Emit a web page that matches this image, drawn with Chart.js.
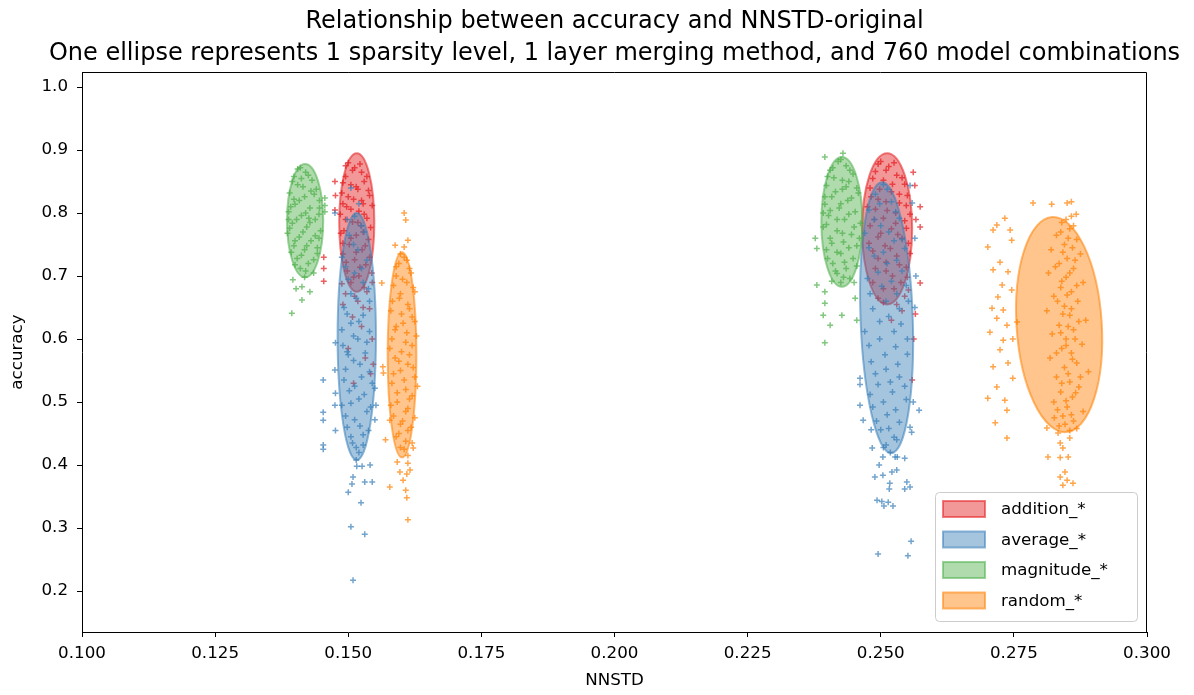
<!DOCTYPE html>
<html>
<head>
<meta charset="utf-8">
<script src="https://cdn.jsdelivr.net/npm/chart.js@4/dist/chart.umd.min.js"></script>
<style>
  html, body { margin: 0; padding: 0; background: #fff; }
  #wrap { width: 1194px; height: 695px; }
</style>
</head>
<body>
<div id="wrap"><canvas id="chart" width="1194" height="695"></canvas></div>
<script>
// values (NNSTD, accuracy)
const methods = ['addition_*', 'average_*', 'magnitude_*', 'random_*'];
const colors = ['#e41a1c', '#377eb8', '#4daf4a', '#ff7f00'];
const titleLines = [
  'Relationship between accuracy and NNSTD-original',
  'One ellipse represents 1 sparsity level, 1 layer merging method, and 760 model combinations',
];

const additionPts = [
  [0.1500,0.880],[0.1512,0.872],[0.1525,0.865],[0.1495,0.858],[0.1530,0.850],[0.1505,0.845],[0.1518,0.838],
  [0.1488,0.832],[0.1540,0.828],[0.1510,0.822],[0.1528,0.815],[0.1497,0.810],[0.1520,0.803],[0.1485,0.798],
  [0.1535,0.792],[0.1508,0.786],[0.1524,0.780],[0.1492,0.772],[0.1515,0.765],[0.1538,0.758],[0.1502,0.750],
  [0.1526,0.742],[0.1490,0.735],[0.1512,0.726],[0.1533,0.718],[0.1498,0.708],[0.1520,0.700],[0.1505,0.690],
  [0.1530,0.682],[0.1495,0.672],[0.1518,0.660],[0.1540,0.648],[0.1508,0.635],[0.1525,0.620],[0.1545,0.600],
  [0.1500,0.585],[0.1532,0.570],[0.1475,0.850],[0.1476,0.828],[0.1475,0.805],[0.1454,0.730],[0.1454,0.712],
  [0.1454,0.692],[0.1545,0.690],[0.1547,0.560],[0.1542,0.545],[0.1510,0.530],
  [0.1495,0.875],[0.1522,0.878],[0.1508,0.868],[0.1535,0.858],[0.1490,0.848],[0.1515,0.842],[0.1538,0.836],
  [0.1500,0.826],[0.1525,0.820],[0.1490,0.815],[0.1545,0.812],[0.1505,0.806],[0.1530,0.798],[0.1495,0.790],
  [0.1518,0.785],[0.1542,0.777],[0.1486,0.768],[0.1528,0.770],[0.1505,0.760],[0.1490,0.752],[0.1532,0.748],
  [0.1515,0.738],[0.1540,0.730],[0.1496,0.722],[0.1522,0.714],[0.1544,0.705],[0.1510,0.698],[0.1488,0.688],
  [0.1535,0.675],[0.1512,0.668],[0.1490,0.655],[0.1528,0.650],
  [0.2500,0.882],[0.2515,0.874],[0.2490,0.866],[0.2530,0.860],[0.2505,0.852],[0.2545,0.846],[0.2480,0.840],
  [0.2520,0.834],[0.2550,0.828],[0.2495,0.822],[0.2535,0.816],[0.2475,0.810],[0.2512,0.804],[0.2555,0.798],
  [0.2488,0.790],[0.2528,0.784],[0.2548,0.776],[0.2500,0.768],[0.2540,0.760],[0.2478,0.752],[0.2518,0.744],
  [0.2555,0.736],[0.2495,0.728],[0.2535,0.718],[0.2510,0.708],[0.2550,0.698],[0.2485,0.690],[0.2525,0.680],
  [0.2545,0.668],[0.2505,0.658],[0.2540,0.645],[0.2520,0.630],[0.2561,0.865],[0.2564,0.844],[0.2574,0.810],
  [0.2574,0.778],[0.2566,0.790],[0.2574,0.689],[0.2565,0.640],[0.2559,0.535],[0.2562,0.600],
  [0.2495,0.878],[0.2525,0.880],[0.2510,0.868],[0.2540,0.856],[0.2485,0.855],[0.2522,0.846],[0.2498,0.838],
  [0.2535,0.830],[0.2482,0.826],[0.2510,0.818],[0.2548,0.812],[0.2490,0.806],[0.2528,0.800],[0.2505,0.792],
  [0.2545,0.788],[0.2480,0.780],[0.2520,0.775],[0.2495,0.762],[0.2532,0.766],[0.2552,0.752],[0.2508,0.748],
  [0.2485,0.740],[0.2530,0.732],[0.2510,0.722],[0.2548,0.714],[0.2490,0.712],[0.2522,0.700],[0.2538,0.690],
  [0.2505,0.680],[0.2552,0.678],[0.2495,0.665],[0.2530,0.655]
];

const averagePts = [
  [0.1505,0.840],[0.1520,0.815],[0.1498,0.790],[0.1530,0.770],[0.1510,0.750],[0.1488,0.730],[0.1525,0.712],
  [0.1500,0.695],[0.1538,0.680],[0.1515,0.665],[0.1492,0.650],[0.1528,0.638],[0.1505,0.625],[0.1540,0.612],
  [0.1518,0.600],[0.1490,0.590],[0.1532,0.578],[0.1510,0.566],[0.1495,0.552],[0.1525,0.540],[0.1545,0.530],
  [0.1502,0.518],[0.1520,0.505],[0.1488,0.495],[0.1535,0.485],[0.1512,0.472],[0.1498,0.460],[0.1528,0.448],
  [0.1508,0.435],[0.1520,0.420],[0.1515,0.408],
  [0.1512,0.795],[0.1525,0.780],[0.1502,0.765],[0.1518,0.742],[0.1535,0.725],[0.1495,0.715],[0.1512,0.705],
  [0.1528,0.690],[0.1505,0.672],[0.1540,0.660],[0.1498,0.640],[0.1520,0.628],[0.1488,0.615],[0.1510,0.605],
  [0.1535,0.595],[0.1500,0.575],[0.1522,0.560],[0.1540,0.548],[0.1492,0.535],[0.1512,0.525],[0.1530,0.512],
  [0.1505,0.498],[0.1542,0.492],[0.1495,0.478],[0.1522,0.462],[0.1538,0.455],[0.1505,0.445],[0.1515,0.428],
  [0.1528,0.432],[0.1498,0.580],
  [0.1475,0.800],[0.1476,0.594],[0.1475,0.551],[0.1476,0.514],[0.1475,0.495],[0.1476,0.455],[0.1453,0.535],
  [0.1453,0.484],[0.1453,0.471],[0.1453,0.432],[0.1453,0.425],[0.1516,0.398],[0.1526,0.398],[0.1509,0.381],
  [0.1541,0.400],[0.1531,0.373],[0.1545,0.373],[0.1507,0.370],[0.1500,0.357],[0.1524,0.340],[0.1505,0.302],
  [0.1531,0.290],[0.1509,0.217],[0.1550,0.522],[0.1552,0.495],[0.1550,0.472],
  [0.2505,0.845],[0.2490,0.830],[0.2520,0.818],[0.2478,0.805],[0.2535,0.792],[0.2500,0.780],[0.2470,0.768],
  [0.2525,0.756],[0.2545,0.744],[0.2488,0.732],[0.2512,0.720],[0.2540,0.708],[0.2475,0.696],[0.2502,0.684],
  [0.2530,0.672],[0.2552,0.660],[0.2485,0.648],[0.2515,0.636],[0.2538,0.624],[0.2470,0.612],[0.2498,0.600],
  [0.2528,0.588],[0.2550,0.576],[0.2482,0.564],[0.2510,0.552],[0.2535,0.540],[0.2495,0.528],[0.2522,0.516],
  [0.2548,0.504],[0.2485,0.492],[0.2512,0.480],[0.2535,0.468],[0.2500,0.456],[0.2525,0.444],[0.2510,0.432],
  [0.2518,0.420],
  [0.2512,0.838],[0.2498,0.815],[0.2528,0.802],[0.2488,0.790],[0.2515,0.770],[0.2540,0.758],[0.2478,0.745],
  [0.2505,0.738],[0.2530,0.725],[0.2495,0.706],[0.2520,0.692],[0.2548,0.685],[0.2480,0.672],[0.2510,0.660],
  [0.2535,0.648],[0.2498,0.628],[0.2525,0.612],[0.2550,0.600],[0.2478,0.590],[0.2508,0.575],[0.2532,0.560],
  [0.2490,0.545],[0.2518,0.532],[0.2545,0.525],[0.2480,0.512],[0.2505,0.500],[0.2528,0.488],[0.2492,0.470],
  [0.2515,0.458],[0.2530,0.440],[0.2505,0.428],
  [0.2555,0.844],[0.2559,0.816],[0.2564,0.760],[0.2566,0.700],[0.2564,0.650],[0.2461,0.538],[0.2461,0.528],
  [0.2461,0.495],[0.2467,0.471],[0.2482,0.456],[0.2484,0.427],[0.2561,0.500],[0.2572,0.487],[0.2555,0.460],
  [0.2558,0.452],[0.2504,0.413],[0.2527,0.413],[0.2531,0.413],[0.2545,0.411],[0.2497,0.400],[0.2489,0.381],
  [0.2504,0.384],[0.2521,0.389],[0.2530,0.392],[0.2517,0.371],[0.2549,0.373],[0.2555,0.365],[0.2545,0.362],
  [0.2516,0.362],[0.2493,0.344],[0.2502,0.342],[0.2514,0.341],[0.2506,0.335],[0.2523,0.335],[0.2557,0.279],
  [0.2495,0.259],[0.2551,0.256]
];

const magnitudePts = [
  [0.1410,0.872],[0.1420,0.865],[0.1398,0.858],[0.1432,0.852],[0.1405,0.845],[0.1440,0.838],[0.1390,0.832],
  [0.1418,0.826],[0.1446,0.820],[0.1400,0.814],[0.1428,0.808],[0.1388,0.802],[0.1412,0.796],[0.1438,0.790],
  [0.1395,0.784],[0.1422,0.778],[0.1448,0.772],[0.1386,0.768],[0.1408,0.762],[0.1430,0.756],[0.1398,0.748],
  [0.1418,0.742],[0.1442,0.736],[0.1404,0.728],[0.1425,0.720],[0.1410,0.712],[0.1435,0.705],[0.1418,0.698],
  [0.1396,0.694],[0.1413,0.683],[0.1428,0.675],[0.1402,0.680],[0.1413,0.662],[0.1394,0.641],[0.1456,0.824],
  [0.1456,0.812],[0.1456,0.802],[0.1445,0.760],
  [0.1405,0.870],[0.1425,0.860],[0.1395,0.850],[0.1415,0.842],[0.1436,0.830],[0.1408,0.820],[0.1392,0.810],
  [0.1420,0.800],[0.1445,0.798],[0.1403,0.790],[0.1428,0.785],[0.1390,0.776],[0.1415,0.770],[0.1438,0.764],
  [0.1400,0.756],[0.1422,0.748],[0.1393,0.738],[0.1412,0.733],[0.1435,0.726],[0.1400,0.718],[0.1420,0.708],
  [0.1442,0.745],[0.1388,0.790],[0.1446,0.808],[0.1430,0.835],[0.1398,0.822],[0.1412,0.855],[0.1426,0.792],
  [0.2420,0.882],[0.2435,0.875],[0.2405,0.868],[0.2448,0.862],[0.2412,0.856],[0.2440,0.850],[0.2398,0.844],
  [0.2428,0.838],[0.2458,0.832],[0.2408,0.826],[0.2438,0.820],[0.2395,0.814],[0.2422,0.808],[0.2452,0.802],
  [0.2402,0.796],[0.2432,0.790],[0.2462,0.784],[0.2392,0.778],[0.2418,0.772],[0.2445,0.766],[0.2405,0.760],
  [0.2430,0.754],[0.2455,0.748],[0.2398,0.742],[0.2425,0.736],[0.2448,0.728],[0.2410,0.720],[0.2435,0.712],
  [0.2418,0.704],[0.2442,0.696],[0.2425,0.690],[0.2395,0.889],[0.2429,0.895],[0.2377,0.760],[0.2380,0.744],
  [0.2380,0.686],[0.2395,0.675],[0.2395,0.657],[0.2392,0.638],[0.2405,0.622],[0.2427,0.638],[0.2452,0.665],
  [0.2450,0.690],[0.2455,0.630],[0.2395,0.594],
  [0.2425,0.885],[0.2410,0.872],[0.2442,0.868],[0.2400,0.858],[0.2428,0.852],[0.2455,0.840],[0.2415,0.834],
  [0.2395,0.826],[0.2445,0.824],[0.2425,0.815],[0.2405,0.804],[0.2440,0.798],[0.2418,0.790],[0.2398,0.782],
  [0.2450,0.778],[0.2428,0.768],[0.2408,0.752],[0.2440,0.745],[0.2418,0.738],[0.2400,0.728],[0.2432,0.722],
  [0.2455,0.716],[0.2415,0.708],[0.2430,0.698],[0.2408,0.692],[0.2460,0.760],[0.2392,0.800],[0.2435,0.842]
];

const randomPts = [
  [0.1598,0.735],[0.1610,0.725],[0.1590,0.715],[0.1618,0.705],[0.1602,0.695],[0.1585,0.685],[0.1625,0.675],
  [0.1596,0.665],[0.1612,0.655],[0.1580,0.645],[0.1620,0.635],[0.1603,0.625],[0.1588,0.615],[0.1628,0.605],
  [0.1608,0.595],[0.1578,0.585],[0.1615,0.575],[0.1595,0.565],[0.1622,0.555],[0.1585,0.545],[0.1605,0.535],
  [0.1630,0.525],[0.1592,0.515],[0.1615,0.505],[0.1580,0.495],[0.1608,0.485],[0.1625,0.475],[0.1598,0.465],
  [0.1612,0.455],[0.1590,0.445],[0.1620,0.435],[0.1605,0.425],[0.1612,0.415],
  [0.1605,0.730],[0.1595,0.720],[0.1615,0.712],[0.1590,0.700],[0.1610,0.690],[0.1622,0.682],[0.1598,0.672],
  [0.1583,0.660],[0.1615,0.648],[0.1600,0.640],[0.1625,0.628],[0.1590,0.620],[0.1610,0.610],[0.1582,0.600],
  [0.1620,0.590],[0.1600,0.580],[0.1588,0.570],[0.1612,0.560],[0.1598,0.550],[0.1625,0.540],[0.1582,0.530],
  [0.1608,0.520],[0.1620,0.510],[0.1592,0.500],[0.1612,0.490],[0.1585,0.478],[0.1602,0.470],[0.1618,0.460],
  [0.1595,0.450],[0.1608,0.438],[0.1598,0.428],
  [0.1605,0.800],[0.1608,0.789],[0.1612,0.757],[0.1605,0.746],[0.1588,0.749],[0.1563,0.689],[0.1565,0.556],
  [0.1566,0.546],[0.1578,0.471],[0.1570,0.440],[0.1622,0.427],[0.1592,0.405],[0.1612,0.403],[0.1597,0.389],
  [0.1610,0.386],[0.1603,0.376],[0.1616,0.392],[0.1578,0.365],[0.1608,0.360],[0.1610,0.348],[0.1612,0.313],
  [0.2840,0.785],[0.2855,0.775],[0.2830,0.765],[0.2868,0.758],[0.2845,0.750],[0.2820,0.742],[0.2875,0.735],
  [0.2850,0.728],[0.2835,0.720],[0.2862,0.712],[0.2815,0.705],[0.2848,0.698],[0.2880,0.690],[0.2838,0.682],
  [0.2858,0.675],[0.2825,0.668],[0.2870,0.660],[0.2845,0.652],[0.2812,0.645],[0.2855,0.638],[0.2885,0.630],
  [0.2835,0.622],[0.2862,0.615],[0.2822,0.608],[0.2848,0.600],[0.2878,0.592],[0.2840,0.585],[0.2858,0.578],
  [0.2818,0.570],[0.2868,0.562],[0.2845,0.555],[0.2890,0.548],[0.2830,0.540],[0.2855,0.532],[0.2872,0.524],
  [0.2838,0.516],[0.2860,0.508],[0.2825,0.500],[0.2850,0.492],[0.2880,0.485],[0.2842,0.478],[0.2862,0.470],
  [0.2835,0.462],[0.2855,0.455],
  [0.2848,0.790],[0.2862,0.780],[0.2838,0.770],[0.2852,0.760],[0.2860,0.745],[0.2842,0.738],[0.2865,0.725],
  [0.2828,0.715],[0.2855,0.705],[0.2840,0.692],[0.2868,0.685],[0.2850,0.670],[0.2832,0.660],[0.2858,0.648],
  [0.2842,0.640],[0.2872,0.628],[0.2852,0.620],[0.2838,0.610],[0.2865,0.600],[0.2848,0.590],[0.2830,0.578],
  [0.2860,0.568],[0.2852,0.545],[0.2840,0.530],[0.2866,0.515],[0.2848,0.502],[0.2832,0.488],[0.2858,0.480],
  [0.2846,0.465],[0.2868,0.458],[0.2826,0.475],[0.2875,0.540],
  [0.2786,0.816],[0.2821,0.814],[0.2850,0.816],[0.2858,0.818],[0.2867,0.798],[0.2858,0.795],[0.2812,0.459],
  [0.2833,0.451],[0.2855,0.443],[0.2837,0.435],[0.2842,0.427],[0.2814,0.413],[0.2837,0.412],[0.2852,0.413],
  [0.2846,0.389],[0.2837,0.381],[0.2850,0.376],[0.2861,0.371],[0.2842,0.368],
  [0.2733,0.792],[0.2718,0.781],[0.2711,0.773],[0.2743,0.773],[0.2746,0.757],[0.2701,0.746],[0.2724,0.722],
  [0.2711,0.710],[0.2739,0.707],[0.2728,0.686],[0.2746,0.678],[0.2720,0.667],[0.2709,0.649],[0.2730,0.646],
  [0.2718,0.633],[0.2737,0.622],[0.2756,0.627],[0.2705,0.611],[0.2730,0.598],[0.2748,0.600],[0.2724,0.583],
  [0.2739,0.562],[0.2711,0.556],[0.2748,0.538],[0.2718,0.524],[0.2701,0.506],[0.2733,0.503],[0.2737,0.487],
  [0.2715,0.467],[0.2737,0.443]
];

// one ellipse per sparsity level: [centre NNSTD, centre accuracy, half width, half height]
const additionEllipses = [[0.1516, 0.785, 0.0033, 0.110], [0.2512, 0.775, 0.0047, 0.120]];
const averageEllipses = [[0.1516, 0.604, 0.0036, 0.196], [0.2511, 0.634, 0.0049, 0.215]];
const magnitudeEllipses = [[0.1419, 0.788, 0.0034, 0.090], [0.2427, 0.786, 0.00385, 0.103]];
const randomEllipses = [[0.1601, 0.575, 0.0027, 0.163], [0.2835, 0.623, 0.0080, 0.171]];
const ellipseTilt = [[0, 0], [0, -2], [0, 0], [0, -3.7]]; // degrees

const allPts = [additionPts, averagePts, magnitudePts, randomPts];
const allEllipses = [additionEllipses, averageEllipses, magnitudeEllipses, randomEllipses];

const FONT = 'DejaVu Sans';

function rgba(hex, a) {
	let n = parseInt(hex.slice(1), 16);
	return `rgba(${(n >> 16) & 255},${(n >> 8) & 255},${n & 255},${a})`;
}

const ellipsePlugin = {
	id: 'ellipses',
	afterDatasetDraw(chart, args) {
		let i = args.index;
		let ctx = chart.ctx;
		let xs = chart.scales.x, ys = chart.scales.y;
		let area = chart.chartArea;
		ctx.save();
		ctx.beginPath();
		ctx.rect(area.left, area.top, area.width, area.height);
		ctx.clip();
		allEllipses[i].forEach((e, k) => {
			let cx = xs.getPixelForValue(e[0]);
			let cy = ys.getPixelForValue(e[1]);
			let rx = Math.abs(xs.getPixelForValue(e[0] + e[2]) - cx);
			let ry = Math.abs(ys.getPixelForValue(e[1] + e[3]) - cy);
			ctx.beginPath();
			ctx.ellipse(cx, cy, rx, ry, ellipseTilt[i][k] * Math.PI / 180, 0, Math.PI * 2);
			ctx.fillStyle = rgba(colors[i], 0.45);
			ctx.fill();
			ctx.lineWidth = 2;
			ctx.strokeStyle = rgba(colors[i], 0.55);
			ctx.stroke();
		});
		ctx.restore();
	},
	afterDraw(chart) {
		let ctx = chart.ctx;
		let area = chart.chartArea;
		ctx.save();
		// title, centred over the axes
		ctx.fillStyle = '#000';
		ctx.font = `24px "${FONT}"`;
		ctx.textAlign = 'center';
		ctx.textBaseline = 'middle';
		let mid = (area.left + area.right) / 2;
		titleLines.forEach((t, i) => ctx.fillText(t, mid, 22 + i * 32));

		// top and right spines
		ctx.strokeStyle = '#000';
		ctx.lineWidth = 1;
		ctx.beginPath();
		ctx.moveTo(area.left, area.top + 0.5);
		ctx.lineTo(area.right - 0.5, area.top + 0.5);
		ctx.lineTo(area.right - 0.5, area.bottom);
		ctx.stroke();

		// legend box, lower right inside the axes
		let w = 202, h = 129;
		let x0 = area.right - 10 - w, y0 = area.bottom - 11 - h;
		ctx.beginPath();
		ctx.roundRect(x0 + 0.5, y0 + 0.5, w, h, 4);
		ctx.fillStyle = 'rgba(255,255,255,0.8)';
		ctx.fill();
		ctx.strokeStyle = '#cccccc';
		ctx.lineWidth = 1;
		ctx.stroke();
		ctx.font = `16.7px "${FONT}"`;
		ctx.textBaseline = 'middle';
		ctx.textAlign = 'left';
		methods.forEach((m, i) => {
			let cy = y0 + 17 + i * 30.5;
			ctx.fillStyle = rgba(colors[i], 0.45);
			ctx.fillRect(x0 + 8, cy - 8, 42, 16);
			ctx.strokeStyle = rgba(colors[i], 0.55);
			ctx.lineWidth = 2;
			ctx.strokeRect(x0 + 8, cy - 8, 42, 16);
			ctx.fillStyle = '#000';
			ctx.fillText(m, x0 + 66, cy + 1);
		});
		ctx.restore();
	}
};

const datasets = methods.map((m, i) => ({
	label: m,
	data: allPts[i].map((p) => ({ x: p[0], y: p[1] })),
	pointStyle: 'cross',
	pointRadius: 3,
	pointBorderWidth: 1.5,
	borderColor: rgba(colors[i], 0.7),
	backgroundColor: rgba(colors[i], 0.7),
	order: methods.length - i,
}));

const tickFont = { family: FONT, size: 16.7 };

new Chart(document.getElementById('chart'), {
	type: 'scatter',
	data: { datasets: datasets },
	plugins: [ellipsePlugin],
	options: {
		responsive: false,
		animation: false,
		layout: { padding: { left: 0, right: 47, top: 72, bottom: 0 } },
		plugins: {
			legend: { display: false },
			tooltip: { enabled: false },
			title: { display: false },
		},
		scales: {
			x: {
				type: 'linear',
				min: 0.1,
				max: 0.3,
				afterFit: (s) => { s.height = 63; },
				border: { display: true, color: '#000', width: 1 },
				grid: { drawOnChartArea: false, drawTicks: true, tickLength: 5, color: '#000' },
				ticks: {
					stepSize: 0.025,
					color: '#000',
					font: tickFont,
					padding: 7,
					maxRotation: 0,
					autoSkip: false,
					callback: (v) => v.toFixed(3),
				},
				title: {
					display: true,
					text: 'NNSTD',
					color: '#000',
					font: { family: FONT, size: 16.7, lineHeight: 1.2 },
					padding: { top: 0, bottom: 4 },
				},
			},
			y: {
				type: 'linear',
				min: 0.135,
				max: 1.024,
				afterFit: (s) => { s.width = 82; },
				border: { display: true, color: '#000', width: 1 },
				grid: { drawOnChartArea: false, drawTicks: true, tickLength: 5, color: '#000' },
				ticks: {
					stepSize: 0.1,
					includeBounds: false,
					color: '#000',
					font: tickFont,
					padding: 9,
					callback: (v) => v.toFixed(1),
				},
				title: {
					display: true,
					text: 'accuracy',
					color: '#000',
					font: { family: FONT, size: 16.7, lineHeight: 1.2 },
					padding: { top: 8, bottom: 0 },
				},
			},
		},
	},
});
</script>
</body>
</html>
